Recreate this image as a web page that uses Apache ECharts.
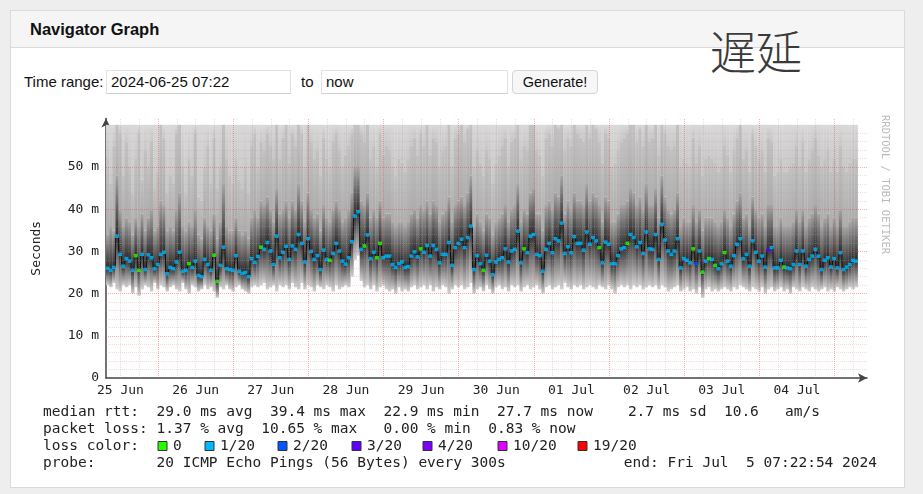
<!DOCTYPE html>
<html>
<head>
<meta charset="utf-8">
<script src="https://cdn.jsdelivr.net/npm/echarts@6/dist/echarts.min.js"></script>
<style>
body{margin:0;background:#eeeeee;font-family:"Liberation Sans",Arial,sans-serif;color:#111;}
#panel{position:absolute;left:10px;top:10px;width:895px;height:478px;box-sizing:border-box;background:#fff;border:1px solid #dadada;}
#head{position:absolute;left:11px;top:11px;width:893px;height:36px;background:#f5f5f5;border-bottom:1px solid #dadada;}
.t{position:absolute;font-size:15px;line-height:16px;white-space:nowrap;}
.inp{position:absolute;top:70px;height:24px;box-sizing:border-box;border:1px solid #e2e2e2;border-bottom-color:#cfcfcf;background:#fff;font-size:15px;line-height:22px;padding-left:4px;}
.btn{position:absolute;left:512px;top:70px;width:86px;height:24px;box-sizing:border-box;border:1px solid #d4d4d4;border-radius:4px;background:#f7f7f7;font-size:14.5px;line-height:22px;text-align:center;}
#kanji{position:absolute;left:710px;top:24px;font-family:"Noto Sans CJK JP",sans-serif;font-size:46px;font-weight:300;line-height:50px;color:#3a3a3a;}
#chart{position:absolute;left:0;top:0;width:923px;height:494px;}
</style>
</head>
<body>
<div id="panel"></div>
<div id="head"></div>
<div class="t" style="left:30px;top:21px;font-size:16.5px;font-weight:bold;">Navigator Graph</div>
<div id="kanji">遅延</div>
<div class="t" style="left:24px;top:74px;">Time range:</div>
<div class="inp" style="left:106px;width:185px;">2024-06-25 07:22</div>
<div class="t" style="left:301px;top:74px;">to</div>
<div class="inp" style="left:321px;width:187px;">now</div>
<div class="btn">Generate!</div>
<div id="chart"></div>
<script>
// hourly steps from 2024-06-25 07:22:54, 240 hours
var startHour = 7 + 22 / 60 + 54 / 3600;
var dayLabels = ['25 Jun', '26 Jun', '27 Jun', '28 Jun', '29 Jun', '30 Jun', '01 Jul', '02 Jul', '03 Jul', '04 Jul'];
var yTicks = [0, 10, 20, 30, 40, 50];

// median rtt (ms) per hour
var medRtt = [
    26.0,25.5,26.2,33.6,29.3,26.5,28.3,27.7,25.5,29.0,25.5,29.3,25.7,29.2,28.5,25.9,26.9,29.3,29.8,24.7,
    26.2,25.9,27.5,29.8,25.3,25.5,27.1,26.2,27.7,24.3,24.0,28.1,26.9,25.5,29.1,22.9,26.7,31.0,25.9,25.7,
    25.5,29.0,25.3,24.8,25.0,24.0,28.3,27.4,28.8,31.0,30.5,32.1,30.1,26.9,33.6,28.5,29.8,31.2,28.1,31.3,
    30.5,34.0,31.9,27.5,33.0,30.0,28.1,29.0,25.7,30.3,28.1,27.9,29.5,31.9,30.1,27.7,27.0,28.5,32.3,38.4,
    39.4,30.5,31.3,33.9,28.3,29.8,28.5,31.9,28.5,28.9,28.9,26.9,26.2,27.1,27.5,26.2,26.4,28.9,29.9,28.7,
    30.6,29.8,31.4,28.9,31.4,30.5,27.3,29.3,29.3,32.1,26.7,30.9,31.9,32.9,30.9,33.3,36.0,25.7,29.0,27.1,
    25.5,29.1,27.7,24.5,27.5,28.1,28.5,30.6,27.5,30.1,30.5,34.8,27.3,30.6,29.7,33.6,34.0,29.3,29.0,25.3,
    30.5,31.9,29.7,33.0,32.5,36.7,29.5,31.1,29.7,33.5,31.9,31.9,30.3,34.6,31.7,33.3,32.5,30.9,27.3,32.2,
    31.7,27.1,27.1,29.0,30.6,30.9,31.9,34.0,33.3,31.1,32.1,29.5,34.6,30.6,30.5,34.0,28.1,36.4,32.7,30.1,
    29.3,30.1,33.0,26.1,28.3,27.9,27.3,30.6,27.1,30.1,25.1,27.7,28.3,28.1,26.7,25.9,27.1,29.7,27.7,26.5,
    29.0,31.7,33.0,28.3,29.3,26.5,32.5,29.8,27.7,28.9,26.3,30.3,30.9,26.1,26.1,27.9,26.3,26.1,25.9,26.9,
    30.1,26.9,30.1,26.5,28.1,28.9,30.5,28.9,25.7,27.9,28.5,26.3,28.3,26.1,29.7,25.7,26.3,26.9,27.9,27.7
];
// lowest ping per hour
var minRtt = [
    22.0,21.5,22.5,21.0,20.5,22.0,21.5,22.0,20.0,21.5,19.5,21.0,22.0,21.5,20.5,22.5,21.0,22.0,21.5,20.5,
    21.5,22.0,21.0,20.5,22.5,21.0,20.0,22.0,21.5,20.5,21.0,22.0,21.0,21.5,20.5,19.0,21.5,21.0,22.0,21.0,
    20.5,21.5,22.0,21.0,20.5,20.0,21.5,22.0,21.5,22.0,22.5,21.0,21.5,22.0,20.5,22.0,21.5,22.0,21.0,22.5,
    21.5,21.0,22.5,21.0,22.0,21.5,20.5,22.0,21.5,21.0,22.0,21.5,20.5,22.0,21.0,21.5,22.0,21.5,24.0,28.0,
    29.0,23.0,21.5,22.0,21.0,22.0,20.5,21.5,22.0,21.0,20.5,21.0,20.0,21.5,20.5,21.0,20.5,21.5,22.0,21.0,
    21.5,22.0,21.0,22.0,20.5,21.5,21.0,22.0,21.5,20.0,21.0,22.0,21.5,22.0,21.0,21.5,22.5,20.0,21.0,21.5,
    20.5,22.0,21.0,20.0,21.5,22.0,21.0,21.5,20.5,22.0,21.5,22.0,20.5,21.5,22.0,21.0,21.5,22.0,21.0,20.0,
    21.5,22.0,21.0,21.5,22.0,21.0,22.5,21.5,21.0,22.0,21.5,22.0,21.0,21.5,22.0,21.5,21.0,22.0,21.5,21.0,
    22.0,21.0,20.0,21.5,22.0,21.5,22.0,21.0,22.0,21.5,22.0,21.0,21.5,22.0,21.5,22.0,21.0,22.0,21.5,20.5,
    21.0,21.5,22.0,20.5,21.0,21.5,20.5,21.0,20.0,21.5,19.0,21.0,21.5,20.5,21.0,20.5,21.0,21.5,21.0,20.5,
    21.5,21.0,22.0,21.5,21.0,20.5,21.5,21.0,20.5,21.5,20.0,21.0,21.5,20.5,21.0,21.5,20.5,21.0,20.0,21.5,
    21.0,20.5,21.5,21.0,20.5,21.5,21.0,20.5,21.0,21.5,20.5,21.0,20.5,21.5,21.0,20.5,21.0,21.5,21.0,21.5
];
// top of the dense smoke per hour
var upRtt = [
    34,36,35,48,40,36,38,37,34,38,36,39,35,38,40,35,36,42,41,35,
    36,35,40,44,36,35,37,36,40,34,33,38,36,35,39,33,37,46,36,35,
    35,38,35,34,35,33,38,40,38,42,41,43,40,37,45,39,40,42,38,42,
    40,46,42,37,44,40,38,39,35,41,38,37,40,42,40,37,38,40,44,50,
    50,42,41,44,38,40,38,42,38,39,39,37,36,37,37,36,37,39,40,38,
    41,40,42,39,42,41,37,39,40,43,37,41,42,43,41,44,48,36,39,37,
    35,39,38,34,37,38,39,41,37,40,41,46,37,40,39,44,45,39,39,35,
    41,42,40,44,43,48,39,42,40,44,42,42,41,46,42,44,43,41,37,43,
    42,37,37,39,41,41,42,45,44,41,43,40,46,41,41,45,38,48,43,40,
    39,40,44,36,38,37,37,41,37,40,35,38,38,38,37,36,37,40,38,36,
    39,42,44,38,39,36,43,40,38,39,36,41,41,36,36,38,36,36,36,37,
    40,37,40,36,38,39,41,39,36,38,39,36,38,36,40,36,36,37,38,38
];
// top of the mid smoke per hour (above it the light smoke runs off the graph)
var p90Rtt = [
    52,46,55,60,58,48,56,50,44,52,58,47,54,50,56,45,49,60,57,44,
    48,46,58,60,50,44,52,48,58,43,42,50,55,46,57,45,50,60,52,48,
    46,52,47,45,50,44,55,58,50,56,54,58,55,52,60,52,57,60,51,58,
    55,60,58,50,60,56,52,54,48,57,52,50,56,58,54,50,53,55,58,60,
    60,58,56,60,52,55,50,58,53,55,54,50,48,52,51,49,52,55,57,53,
    58,55,60,53,57,56,50,54,55,60,50,57,58,60,56,59,60,50,54,51,
    48,54,52,46,51,53,55,57,50,56,57,60,52,55,54,60,60,54,53,48,
    57,58,55,60,59,60,54,57,55,60,58,57,56,60,57,60,59,56,51,58,
    57,50,51,54,56,57,58,60,60,56,59,55,60,56,57,60,53,60,58,55,
    54,55,60,50,52,51,50,57,51,55,48,52,53,52,51,49,50,55,53,49,
    54,57,60,52,54,49,58,55,52,54,49,57,56,48,49,52,49,49,50,51,
    55,50,56,49,52,54,57,53,50,52,54,49,52,49,55,50,49,51,52,52
];
// loss class per hour: index into lossColors
var lossIdx = [
    1,1,1,1,1,1,1,1,1,0,0,1,1,1,1,1,1,1,1,1,
    1,1,1,1,1,1,0,1,1,1,1,1,1,1,0,0,1,1,1,1,
    1,1,1,1,1,1,1,1,1,0,1,1,1,1,1,1,1,1,1,1,
    1,1,1,1,1,1,1,1,1,1,1,0,1,1,1,1,1,1,1,1,
    1,1,0,1,1,1,0,0,1,1,1,1,1,1,1,1,1,1,1,1,
    0,1,1,1,1,1,1,1,1,1,1,1,1,1,1,1,1,1,1,1,
    0,1,1,1,1,1,1,1,1,1,1,1,1,0,1,1,1,1,1,1,
    1,1,1,1,1,1,1,1,1,1,1,1,1,1,1,1,1,0,1,1,
    1,1,1,1,1,1,0,1,1,1,1,1,1,1,1,1,1,1,1,1,
    1,1,1,1,1,1,1,0,2,1,0,1,0,1,0,1,1,0,1,1,
    1,1,1,1,1,1,1,1,1,1,1,3,1,1,1,1,0,1,1,1,
    1,1,1,1,1,1,1,1,1,1,1,1,1,1,1,1,1,1,1,1
];
var lossLabels = ['0', '1/20', '2/20', '3/20', '4/20', '10/20', '19/20'];
var lossColors = ['#26ff00', '#00b8ff', '#0059ff', '#5e00ff', '#7e00ff', '#dd00ff', '#ff0000'];
var smokeCeil = 60;

var statLines = [
    'median rtt:  29.0 ms avg  39.4 ms max  22.9 ms min  27.7 ms now    2.7 ms sd  10.6   am/s',
    'packet loss: 1.37 % avg  10.65 % max   0.00 % min  0.83 % now',
    'loss color:',
    'probe:       20 ICMP Echo Pings (56 Bytes) every 300s'
];
var endText = 'end: Fri Jul  5 07:22:54 2024';

var mono = '"DejaVu Sans Mono", monospace';
var smokeData = [], medLine = [], medDots = [];
for (var i = 0; i < medRtt.length; i++) {
    smokeData.push([i, minRtt[i], medRtt[i], upRtt[i], p90Rtt[i]]);
    medLine.push([i + 0.5, medRtt[i]]);
    medDots.push([i + 0.5, medRtt[i], lossIdx[i]]);
}

// grid lines every 6 hours (red at midnight), every 2 ms (red every 10)
var gridMarks = [];
var firstSix = 6 - (startHour % 6);
for (var h = firstSix; h < 240; h += 6) {
    var isMid = Math.round((h + startHour) % 24) % 24 === 0;
    gridMarks.push({xAxis: h, lineStyle: {color: isMid ? 'rgba(235,60,60,0.4)' : 'rgba(170,170,170,0.35)', type: [1, 1], width: 1}});
}
for (var v = 2; v < 60; v += 2) {
    var isMaj = v % 10 === 0;
    gridMarks.push({yAxis: v, lineStyle: {color: isMaj ? 'rgba(235,60,60,0.4)' : 'rgba(210,150,150,0.3)', type: [1, 1], width: 1}});
}
var noonAt = [];
for (var d = 0; d < dayLabels.length; d++) noonAt.push(12 - startHour + 24 * d);

var graphics = [];
var lineY = [412, 429, 446, 463];
statLines.forEach(function (s, k) {
    graphics.push({type: 'text', x: 43, y: lineY[k], style: {text: s, font: '14.5px ' + mono, fill: '#222', verticalAlign: 'middle'}});
});
graphics.push({type: 'text', x: 877, y: lineY[3], style: {text: endText, font: '14.5px ' + mono, fill: '#222', align: 'right', verticalAlign: 'middle'}});
var sqX = [158, 205, 278, 352, 423, 498, 578];
lossLabels.forEach(function (lab, k) {
    graphics.push({type: 'rect', shape: {x: sqX[k], y: lineY[2] - 4.5, width: 9, height: 9}, style: {fill: lossColors[k], stroke: '#333', lineWidth: 1}});
    graphics.push({type: 'text', x: sqX[k] + 15, y: lineY[2], style: {text: lab, font: '14.5px ' + mono, fill: '#222', verticalAlign: 'middle'}});
});
graphics.push({type: 'text', x: 885, y: 115, rotation: -Math.PI / 2, style: {text: 'RRDTOOL / TOBI OETIKER', font: '10.5px ' + mono, fill: '#bbbbbb', verticalAlign: 'middle'}});

var chart = echarts.init(document.getElementById('chart'));
var option = {
    animation: false,
    backgroundColor: 'transparent',
    grid: {left: 106, right: 56, top: 118.5, bottom: 116},
    xAxis: {
        type: 'value', min: 0, max: 243,
        axisLine: {lineStyle: {color: '#444', width: 1.5}, symbol: ['none', 'arrow'], symbolSize: [7, 9]},
        axisTick: {show: false},
        splitLine: {show: false},
        axisLabel: {
            customValues: noonAt,
            formatter: function (val) {
                var k = Math.round((val - noonAt[0]) / 24);
                return dayLabels[k] || '';
            },
            fontFamily: 'DejaVu Sans Mono', fontSize: 13, color: '#222', margin: 6
        }
    },
    yAxis: {
        type: 'value', min: 0, max: 61.5, interval: 10,
        name: 'Seconds', nameLocation: 'middle', nameRotate: 90, nameGap: 63,
        nameTextStyle: {fontFamily: 'DejaVu Sans Mono', fontSize: 13, color: '#222'},
        axisLine: {show: true, lineStyle: {color: '#444', width: 1.5}, symbol: ['none', 'arrow'], symbolSize: [7, 9]},
        axisTick: {show: false},
        splitLine: {show: false},
        axisLabel: {
            formatter: function (val) {
                if (yTicks.indexOf(val) < 0) return '';
                return val === 0 ? '0' : val + ' m';
            },
            fontFamily: 'DejaVu Sans Mono', fontSize: 13, color: '#222', margin: 7
        }
    },
    graphic: graphics,
    series: [
        {
            type: 'custom', z: 1, silent: true,
            data: smokeData,
            renderItem: function (params, api) {
                var i = api.value(0);
                var x0 = api.coord([i, 0])[0], x1 = api.coord([i + 1, 0])[0];
                function band(a, b, c1, c2) {
                    var ya = api.coord([i, a])[1], yb = api.coord([i, b])[1];
                    return {
                        type: 'rect',
                        shape: {x: x0, y: yb, width: x1 - x0 + 0.3, height: ya - yb},
                        style: {fill: new echarts.graphic.LinearGradient(0, 1, 0, 0, [{offset: 0, color: c1}, {offset: 1, color: c2}])}
                    };
                }
                return {
                    type: 'group',
                    children: [
                        band(api.value(4), smokeCeil, '#c8c8c8', '#d8d8d8'),
                        band(api.value(3), api.value(4), '#acacac', '#c2c2c2'),
                        band(api.value(2), api.value(3), '#2c2c2c', '#a6a6a6'),
                        band(api.value(1), api.value(2), '#d0d0d0', '#333333')
                    ]
                };
            }
        },
        {
            type: 'line', z: 3, silent: true, data: [],
            markLine: {silent: true, symbol: 'none', label: {show: false}, animation: false, data: gridMarks}
        },
        {
            type: 'line', z: 4, silent: true, data: medLine, step: 'middle', symbol: 'none',
            lineStyle: {color: '#111', width: 1}
        },
        {
            type: 'scatter', z: 5, silent: true, data: medDots, symbol: 'rect', symbolSize: [4, 3.5],
            itemStyle: {color: function (p) { return lossColors[p.data[2]]; }}
        }
    ]
};
chart.setOption(option);
</script>
</body>
</html>
